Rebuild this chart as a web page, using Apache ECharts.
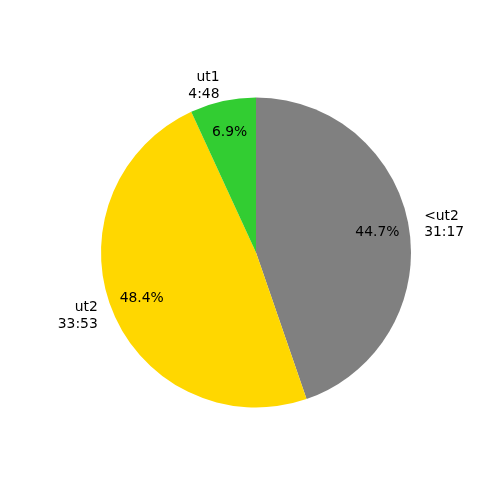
<!DOCTYPE html>
<html>
<head>
<meta charset="utf-8">
<script src="https://cdn.jsdelivr.net/npm/echarts@6/dist/echarts.min.js"></script>
<style>html,body{margin:0;padding:0;background:#fff;}#c{width:500px;height:500px;}</style>
</head>
<body>
<div id="c"></div>
<script>
const categories = ['<ut2', 'ut2', 'ut1'];
const durations = ['31:17', '33:53', '4:48'];
const seconds = [1877, 2033, 288];
const colors = ['#808080', '#FFD700', '#32CD32'];

const total = seconds.reduce((a, b) => a + b, 0);
const font = 'DejaVu Sans';
const cx = 256, cy = 252.5, R = 155;

const outerData = categories.map((c, i) => ({
  name: c, value: seconds[i], itemStyle: { color: colors[i] }
}));
const innerData = categories.map((c, i) => ({
  name: c, value: seconds[i], itemStyle: { color: 'rgba(0,0,0,0)' }
}));

const chart = echarts.init(document.getElementById('c'), null, { renderer: 'canvas' });
chart.setOption({
  animation: false,
  backgroundColor: '#ffffff',
  series: [
    {
      type: 'pie',
      center: [cx, cy],
      radius: [0, R],
      startAngle: 90,
      clockwise: true,
      avoidLabelOverlap: false,
      silent: true,
      data: outerData,
      label: {
        show: true,
        position: 'outside',
        distanceToLabelLine: 0,
        formatter: p => p.name + '\n' + durations[p.dataIndex],
        fontFamily: font,
        fontSize: 13.9,
        lineHeight: 16.7,
        color: '#000'
      },
      labelLine: { show: false, length: 15.5, length2: 0 }
    },
    {
      type: 'pie',
      center: [cx, cy],
      radius: [R * 0.55, R],
      startAngle: 90,
      clockwise: true,
      avoidLabelOverlap: false,
      silent: true,
      data: innerData,
      label: {
        show: true,
        position: 'inside',
        formatter: p => (p.value / total * 100).toFixed(1) + '%',
        fontFamily: font,
        fontSize: 13.9,
        color: '#000'
      },
      labelLine: { show: false }
    }
  ]
});
</script>
</body>
</html>
